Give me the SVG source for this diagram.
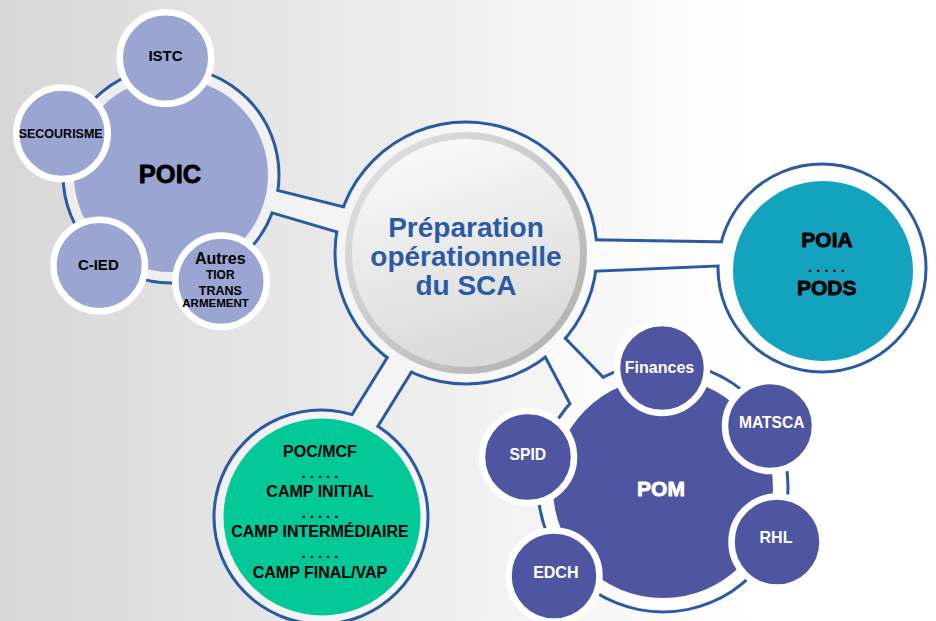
<svg xmlns="http://www.w3.org/2000/svg" xmlns:xlink="http://www.w3.org/1999/xlink" width="936" height="621" viewBox="0 0 936 621">
  <defs>
    <style>
      .t { font-family: "Liberation Sans", Arial, sans-serif; font-weight: bold; text-anchor: middle; }
      .blk { fill: #000000; }
      .wht { fill: #ffffff; }
      .heavy { stroke-width: 0.8; stroke-linejoin: round; }
      .lav { fill: #9aa5d1; }
      .sat-lav { fill: #9aa5d1; stroke: #ffffff; stroke-width: 6.5; }
      .sat-pom { fill: #4f56a1; stroke: #ffffff; stroke-width: 6.5; }
      .dots { font-family: "Liberation Sans", Arial, sans-serif; font-weight: bold; font-size: 15px; letter-spacing: 4px; text-anchor: middle; fill: #000000; }
    </style>
    <linearGradient id="bg" x1="0" y1="0" x2="1" y2="0">
      <stop offset="0" stop-color="#d7d7d7"/>
      <stop offset="0.45" stop-color="#eeeeee"/>
      <stop offset="0.8" stop-color="#ffffff"/>
      <stop offset="1" stop-color="#ffffff"/>
    </linearGradient>
    <linearGradient id="fillg" gradientUnits="userSpaceOnUse" x1="0" y1="0" x2="936" y2="0">
      <stop offset="0" stop-color="#ebebeb"/>
      <stop offset="0.5" stop-color="#f7f7f7"/>
      <stop offset="0.8" stop-color="#ffffff"/>
    </linearGradient>
    <linearGradient id="face" x1="0" y1="0" x2="0.3" y2="1">
      <stop offset="0" stop-color="#fdfdfd"/>
      <stop offset="1" stop-color="#dadada"/>
    </linearGradient>
    <linearGradient id="rim" x1="0" y1="0" x2="1" y2="1">
      <stop offset="0" stop-color="#e4e4e4"/>
      <stop offset="1" stop-color="#aeaeae"/>
    </linearGradient>
    <circle id="u-center" cx="466" cy="253" r="129.5"/>
    <circle id="u-poic" cx="171" cy="175" r="106.5"/>
    <circle id="u-poia" cx="822" cy="268" r="102.5"/>
    <circle id="u-camp" cx="321" cy="517" r="105.5"/>
    <circle id="u-pom" cx="663" cy="487" r="123.5"/>
    <polygon id="s-poic" points="200,172.5 400,222.5 400,249 200,190"/>
    <polygon id="s-poia" points="560,240.8 760,244 760,262.7 560,271.2"/>
    <polygon id="s-camp" points="424.6,300 454.2,300 349.1,470 319.5,470"/>
    <polygon id="s-pom" points="532.7,330 545.5,320 642.5,420 585.5,430"/>
  </defs>

  <rect x="0" y="0" width="936" height="621" fill="url(#bg)"/>

  <g id="connectors">
    <g fill="#2a5aa2" stroke="#2a5aa2" stroke-width="6">
      <use xlink:href="#s-poic"/>
      <use xlink:href="#s-poia"/>
      <use xlink:href="#s-camp"/>
      <use xlink:href="#s-pom"/>
      <use xlink:href="#u-center"/>
      <use xlink:href="#u-poic"/>
      <use xlink:href="#u-poia"/>
      <use xlink:href="#u-camp"/>
      <use xlink:href="#u-pom"/>
    </g>
    <g fill="url(#fillg)">
      <use xlink:href="#s-poic"/>
      <use xlink:href="#s-poia"/>
      <use xlink:href="#s-camp"/>
      <use xlink:href="#s-pom"/>
      <use xlink:href="#u-center"/>
      <use xlink:href="#u-poic"/>
      <use xlink:href="#u-poia"/>
      <use xlink:href="#u-camp"/>
      <use xlink:href="#u-pom"/>
    </g>
  </g>

  <g id="center">
    <circle cx="466" cy="253" r="117.5" fill="url(#face)" stroke="url(#rim)" stroke-width="7"/>
    <text class="t" x="466" y="236.5" font-size="28" fill="#2b5ba5">Préparation</text>
    <text class="t" x="466" y="265.5" font-size="28" fill="#2b5ba5">opérationnelle</text>
    <text class="t" x="466" y="295" font-size="28" fill="#2b5ba5">du SCA</text>
  </g>

  <g id="poic">
    <circle class="lav" cx="171" cy="175" r="97"/>
    <text class="t blk heavy" stroke="#000" x="170" y="182.5" font-size="25.5">POIC</text>
  </g>
  <g id="istc">
    <circle class="sat-lav" cx="165.5" cy="58" r="45.75"/>
    <text class="t blk" x="165.5" y="60.7" font-size="15">ISTC</text>
  </g>
  <g id="secourisme">
    <circle class="sat-lav" cx="62" cy="133.3" r="45.75"/>
    <text class="t blk" x="60.7" y="137.7" font-size="12.5">SECOURISME</text>
  </g>
  <g id="cied">
    <circle class="sat-lav" cx="99.2" cy="265.5" r="45.75"/>
    <text class="t blk" x="98.3" y="270" font-size="15">C-IED</text>
  </g>
  <g id="autres">
    <circle class="sat-lav" cx="221" cy="281.2" r="45.75"/>
    <text class="t blk" x="220.3" y="264.3" font-size="16">Autres</text>
    <text class="t blk" x="220.3" y="279.3" font-size="12">TIOR</text>
    <text class="t blk" x="220.3" y="295" font-size="12.5">TRANS</text>
    <text class="t blk" x="215.5" y="306.7" font-size="11.5">ARMEMENT</text>
  </g>

  <g id="poia">
    <circle cx="823" cy="271" r="90" fill="#14a3bf"/>
    <text class="t blk heavy" stroke="#000" x="827" y="246.7" font-size="21">POIA</text>
    <text class="dots" x="828.5" y="272">.....</text>
    <text class="t blk heavy" stroke="#000" x="826.7" y="295" font-size="21">PODS</text>
  </g>

  <g id="camp">
    <circle cx="322" cy="517" r="98.5" fill="#03c898"/>
    <text class="t blk" x="320" y="456.7" font-size="16">POC/MCF</text>
    <text class="dots" x="322" y="478">.....</text>
    <text class="t blk" x="320" y="496.7" font-size="16">CAMP INITIAL</text>
    <text class="dots" x="322" y="518">.....</text>
    <text class="t blk" x="320" y="537.3" font-size="16">CAMP INTERMÉDIAIRE</text>
    <text class="dots" x="322" y="558">.....</text>
    <text class="t blk" x="320" y="577.7" font-size="16">CAMP FINAL/VAP</text>
  </g>

  <g id="pom">
    <circle cx="663" cy="488" r="110" fill="#4f56a1"/>
    <text class="t wht heavy" stroke="#fff" x="661" y="496" font-size="21">POM</text>
  </g>
  <g id="finances">
    <circle class="sat-pom" cx="662" cy="368" r="45"/>
    <text class="t wht" x="659.5" y="373.3" font-size="16">Finances</text>
  </g>
  <g id="matsca">
    <circle class="sat-pom" cx="770" cy="426" r="45"/>
    <text class="t wht" x="771.7" y="428.3" font-size="15.6">MATSCA</text>
  </g>
  <g id="rhl">
    <circle class="sat-pom" cx="777" cy="542" r="45.5"/>
    <text class="t wht" x="776" y="543.3" font-size="16">RHL</text>
  </g>
  <g id="spid">
    <circle class="sat-pom" cx="528" cy="457" r="46"/>
    <text class="t wht" x="527.8" y="460" font-size="15.7">SPID</text>
  </g>
  <g id="edch">
    <circle class="sat-pom" cx="554" cy="576" r="45.5"/>
    <text class="t wht" x="555.8" y="578.3" font-size="16">EDCH</text>
  </g>
</svg>
